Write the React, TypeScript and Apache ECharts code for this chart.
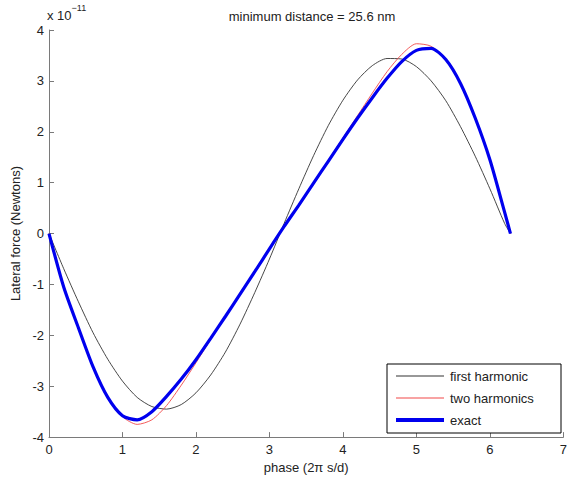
import React, { useEffect, useRef } from "react";
import * as echarts from "echarts";

const phase = [0, 0.2, 0.4, 0.6, 0.8, 1.0, 1.2, 1.4, 1.6, 1.8, 2.0, 2.2, 2.4, 2.6, 2.8, 3.0, 3.2, 3.4, 3.6, 3.8, 4.0, 4.2, 4.4, 4.6, 4.8, 5.0, 5.2, 5.4, 5.6, 5.8, 6.0, 6.2, 6.28];

const firstHarmonic = [0, -0.69, -1.34, -1.95, -2.47, -2.9, -3.22, -3.4, -3.45, -3.36, -3.13, -2.78, -2.33, -1.78, -1.16, -0.5, 0.2, 0.88, 1.53, 2.12, 2.62, 3.02, 3.3, 3.44, 3.43, 3.28, 3.0, 2.61, 2.1, 1.52, 0.88, 0.2, 0];

const twoHarmonics = [0, -1.02, -1.85, -2.62, -3.22, -3.6, -3.75, -3.66, -3.38, -2.98, -2.54, -2.08, -1.63, -1.19, -0.75, -0.3, 0.14, 0.56, 1.0, 1.44, 1.88, 2.32, 2.76, 3.18, 3.52, 3.73, 3.68, 3.4, 2.95, 2.27, 1.45, 0.45, 0];

const exact = [0, -1.05, -1.85, -2.62, -3.22, -3.58, -3.66, -3.5, -3.2, -2.86, -2.48, -2.06, -1.63, -1.19, -0.75, -0.3, 0.14, 0.56, 0.99, 1.42, 1.85, 2.27, 2.67, 3.05, 3.38, 3.6, 3.64, 3.42, 2.95, 2.27, 1.45, 0.42, 0];

const seriesNames = ["first harmonic", "two harmonics", "exact"];
const seriesColors = ["#333333", "#f24848", "#0000ee"];
const seriesWidths = [0.9, 0.9, 3.2];
const titleText = "minimum distance = 25.6 nm";
const xName = "phase (2\u03c0 s/d)";
const yName = "Lateral force (Newtons)";

const FONT = "Liberation Sans, Arial, sans-serif";

function pairs(ys: number[]) {
  return phase.map((x, i) => [x, ys[i]]);
}

export default function App() {
  const ref = useRef<HTMLDivElement>(null);
  useEffect(() => {
    if (!ref.current) return;
    const chart = echarts.init(ref.current, undefined, { renderer: "svg" });
    const axisColor = "#7a7a7a";
    const labelColor = "#222";

    const legendX = 387;
    const legendY = 364;
    const rowYs = [376, 398, 420];
    const legendGraphics: any[] = [
      {
        type: "rect",
        shape: { x: legendX, y: legendY, width: 174, height: 69 },
        style: { fill: "#fff", stroke: "#000", lineWidth: 1 },
        z: 100,
      },
    ];
    seriesNames.forEach((name, i) => {
      legendGraphics.push({
        type: "line",
        shape: { x1: 396, y1: rowYs[i], x2: 444, y2: rowYs[i] },
        style: { stroke: seriesColors[i], lineWidth: seriesWidths[i] + (i === 2 ? 0.8 : 0.2) },
        z: 101,
      });
      legendGraphics.push({
        type: "text",
        x: 450,
        y: rowYs[i],
        style: {
          text: name,
          fontSize: 13,
          fontFamily: FONT,
          fill: "#222",
          verticalAlign: "middle",
          align: "left",
        },
        z: 101,
      });
    });

    chart.setOption({
      animation: false,
      backgroundColor: "#fff",
      textStyle: { fontFamily: FONT },
      title: {
        text: titleText,
        left: 307,
        top: 5,
        textAlign: "center",
        textStyle: { fontSize: 13, fontWeight: "normal", color: "#222", fontFamily: FONT },
      },
      graphic: [
        {
          type: "text",
          left: 47,
          top: 3,
          style: {
            text: "{a|x 10}{b|\u221211}",
            rich: {
              a: { fontSize: 13, fill: "#222", fontFamily: FONT, padding: [6, 0, 0, 0] },
              b: { fontSize: 9, fill: "#222", fontFamily: FONT, verticalAlign: "top", padding: [0, 0, 6, 0] },
            },
          },
        },
        ...legendGraphics,
      ],
      grid: { left: 49, right: 5, top: 30, bottom: 41, containLabel: false },
      xAxis: {
        type: "value",
        min: 0,
        max: 7,
        interval: 1,
        name: xName,
        nameLocation: "middle",
        nameGap: 21,
        nameTextStyle: { fontSize: 13, color: labelColor, fontFamily: FONT },
        axisLine: { show: true, onZero: false, lineStyle: { color: axisColor, width: 1 } },
        axisTick: { show: true, inside: true, length: 5, lineStyle: { color: axisColor } },
        axisLabel: { fontSize: 13, color: labelColor, margin: 6, fontFamily: FONT },
        splitLine: { show: false },
      },
      yAxis: {
        type: "value",
        min: -4,
        max: 4,
        interval: 1,
        name: yName,
        nameLocation: "middle",
        nameGap: 27,
        nameRotate: 90,
        nameTextStyle: { fontSize: 13, color: labelColor, fontFamily: FONT },
        axisLine: { show: true, onZero: false, lineStyle: { color: axisColor, width: 1 } },
        axisTick: { show: true, inside: true, length: 5, lineStyle: { color: axisColor } },
        axisLabel: { fontSize: 13, color: labelColor, margin: 5, fontFamily: FONT },
        splitLine: { show: false },
      },
      series: [firstHarmonic, twoHarmonics, exact].map((ys, i) => ({
        name: seriesNames[i],
        type: "line",
        data: pairs(ys),
        showSymbol: false,
        symbol: "none",
        smooth: 0.25,
        lineStyle: { color: seriesColors[i], width: seriesWidths[i] },
        itemStyle: { color: seriesColors[i] },
        z: 2 + i,
      })),
    });
    return () => chart.dispose();
  }, []);
  return <div ref={ref} style={{ width: 570, height: 479, position: "absolute", left: 0, top: 0 }} />;
}
